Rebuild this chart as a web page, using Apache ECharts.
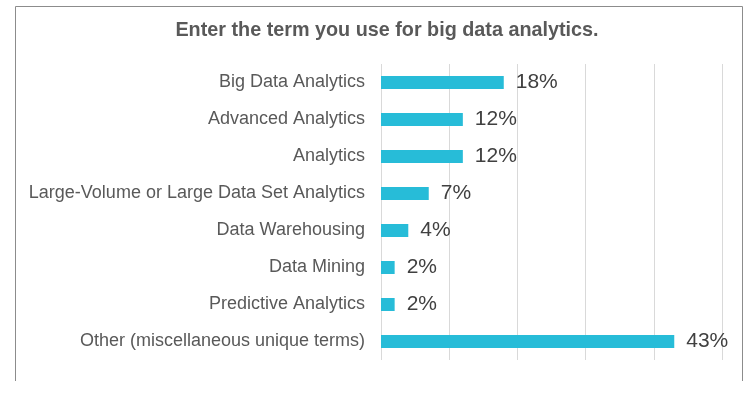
<!DOCTYPE html>
<html>
<head>
<meta charset="utf-8">
<script src="https://cdn.jsdelivr.net/npm/echarts@6/dist/echarts.min.js"></script>
<style>
  html, body { margin: 0; padding: 0; background: #fff; }
  #chart { width: 755px; height: 397px; }
</style>
</head>
<body>
<div id="chart"></div>
<script>
// survey answers, top to bottom
const categories = [
  'Big Data Analytics',
  'Advanced Analytics',
  'Analytics',
  'Large-Volume or Large Data Set Analytics',
  'Data Warehousing',
  'Data Mining',
  'Predictive Analytics',
  'Other (miscellaneous unique terms)'
]
const shares = [18, 12, 12, 7, 4, 2, 2, 43]

const chart = echarts.init(document.getElementById('chart'))

chart.setOption({
  animation: false,
  textStyle: { fontFamily: 'Liberation Sans, Arial, sans-serif' },
  title: {
    text: 'Enter the term you use for big data analytics.',
    left: 382,
    top: 16,
    textAlign: 'center',
    textStyle: { fontSize: 19.8, fontWeight: 'bold', color: '#595959' }
  },
  // chart frame, cut off at the bottom like the screenshot
  graphic: [{
    type: 'polyline',
    shape: { points: [[15.5, 381], [15.5, 6.5], [742.5, 6.5], [742.5, 381]] },
    style: { fill: null, stroke: '#8c8c8c', lineWidth: 1 },
    silent: true
  }],
  grid: { left: 381, right: 33, top: 64, bottom: 37 },
  xAxis: {
    type: 'value',
    min: 0,
    max: 50,
    interval: 10,
    axisLabel: { show: false },
    axisLine: { show: false },
    axisTick: { show: false },
    splitLine: { lineStyle: { color: '#d9d9d9' } }
  },
  yAxis: {
    type: 'category',
    data: categories,
    inverse: true,
    axisLine: { show: false },
    axisTick: { show: false },
    axisLabel: { fontSize: 18, color: '#595959', margin: 16 }
  },
  series: [{
    type: 'bar',
    data: shares,
    barWidth: 13,
    itemStyle: { color: '#27bcd8' },
    label: {
      show: true,
      position: 'right',
      distance: 12,
      formatter: '{c}%',
      fontSize: 21,
      color: '#404040'
    }
  }]
})
</script>
</body>
</html>
